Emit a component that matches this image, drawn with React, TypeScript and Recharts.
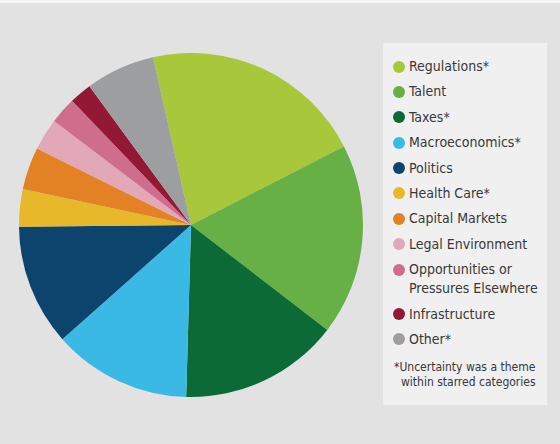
import { Cell, Legend, Pie, PieChart } from "recharts";

const categories = [
  "Regulations*",
  "Talent",
  "Taxes*",
  "Macroeconomics*",
  "Politics",
  "Health Care*",
  "Capital Markets",
  "Legal Environment",
  "Opportunities or\nPressures Elsewhere",
  "Infrastructure",
  "Other*",
];

const shares = [21, 18, 15, 13, 11.4, 3.5, 4, 3, 2.5, 2.1, 6.5];

const colors = [
  "#a9c73b",
  "#67b045",
  "#0b6a36",
  "#3bb9e5",
  "#0d446e",
  "#e6b82a",
  "#e28224",
  "#e2a8b8",
  "#cf6e8c",
  "#921836",
  "#9d9ea0",
];

const footnote = ["*Uncertainty was a theme", "within starred categories"];

const data = categories.map((name, i) => ({ name, value: shares[i] }));

const FONT = '"Liberation Sans Narrow", "DejaVu Sans Condensed", "Roboto", sans-serif';

function LegendBox() {
  return (
    <div
      style={{
        background: "#f0f0f0",
        width: 164,
        height: 362,
        boxSizing: "border-box",
        paddingTop: 14,
        fontFamily: FONT,
        color: "#383838",
      }}
    >
      {categories.map((name, i) => (
        <div key={name} style={{ display: "flex", alignItems: "flex-start", marginBottom: 6.4 }}>
          <span
            style={{
              width: 12,
              height: 12,
              borderRadius: "50%",
              background: colors[i],
              marginLeft: 10,
              marginTop: 3.5,
              flexShrink: 0,
            }}
          />
          <span
            style={{
              marginLeft: 4,
              fontSize: 14,
              lineHeight: "19px",
              whiteSpace: "pre-line",
              textAlign: "left",
            }}
          >
            {name}
          </span>
        </div>
      ))}
      <div
        style={{
          marginTop: 11,
          marginLeft: 11,
          fontSize: 12,
          lineHeight: "15px",
          textAlign: "left",
          whiteSpace: "nowrap",
        }}
      >
        <div>{footnote[0]}</div>
        <div style={{ marginLeft: 7 }}>{footnote[1]}</div>
      </div>
    </div>
  );
}

export default function App() {
  return (
    <div
      style={{
        position: "absolute",
        left: 0,
        top: 0,
        width: 560,
        height: 444,
        background: "#e2e2e2",
        borderTop: "3px solid #f6f6f6",
        boxSizing: "border-box",
      }}
    >
      <PieChart width={560} height={441} margin={{ top: 0, right: 0, bottom: 0, left: 0 }}>
        <Pie
          data={data}
          dataKey="value"
          nameKey="name"
          cx={191}
          cy={222}
          outerRadius={172}
          startAngle={102.8}
          endAngle={-257.2}
          stroke="none"
          isAnimationActive={false}
        >
          {data.map((entry, i) => (
            <Cell key={entry.name} fill={colors[i]} />
          ))}
        </Pie>
        <Legend
          content={() => <LegendBox />}
          wrapperStyle={{ position: "absolute", left: 383, top: 40, width: 164, height: 362 }}
        />
      </PieChart>
    </div>
  );
}
